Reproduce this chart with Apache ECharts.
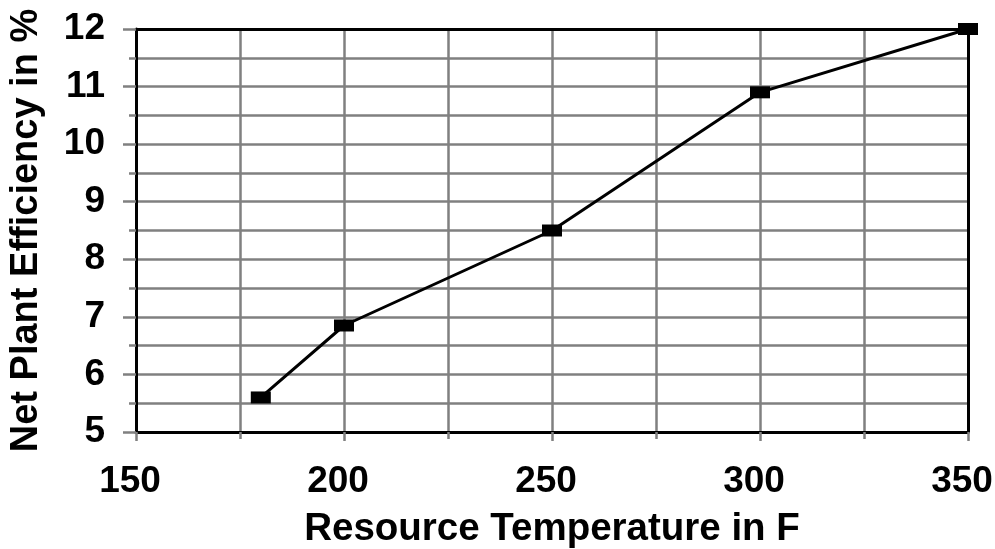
<!DOCTYPE html>
<html>
<head>
<meta charset="utf-8">
<script src="https://cdn.jsdelivr.net/npm/echarts@6/dist/echarts.min.js"></script>
<style>
html,body{margin:0;padding:0;background:#fff;}
#chart{width:995px;height:549px;}
</style>
</head>
<body>
<div id="chart"></div>
<script>
var temperatures = [180, 200, 250, 300, 350];
var efficiency = [5.6, 6.85, 8.5, 10.9, 12.0];
var xTicks = { min: 150, max: 350, interval: 50 };
var yTicks = { min: 5, max: 12, interval: 1 };
var xName = 'Resource Temperature in F';
var yName = 'Net Plant Efficiency in %';

var points = temperatures.map(function (t, i) { return [t, efficiency[i]]; });
var font = "'Liberation Sans', Arial, sans-serif";
var gray = '#808080';

var chart = echarts.init(document.getElementById('chart'), null, { renderer: 'canvas' });
chart.setOption({
  animation: false,
  backgroundColor: '#fff',
  grid: { left: 136, right: 27, top: 29, bottom: 117, containLabel: false, outerBoundsMode: 'none' },
  xAxis: [{
    type: 'value',
    min: xTicks.min, max: xTicks.max, interval: xTicks.interval,
    name: xName, nameLocation: 'middle', nameGap: 78,
    nameTextStyle: { fontFamily: font, fontSize: 38.5, fontWeight: 'bold', color: '#000' },
    axisLine: { show: true, lineStyle: { color: '#000', width: 3 } },
    axisTick: { show: true, length: 9, lineStyle: { color: gray, width: 2.5 } },
    minorTick: { show: true, splitNumber: 2, length: 7, lineStyle: { color: gray, width: 2.5 } },
    splitLine: { show: true, showMinLine: false, showMaxLine: false, lineStyle: { color: gray, width: 2.5 } },
    minorSplitLine: { show: true, lineStyle: { color: gray, width: 2.5 } },
    axisLabel: { margin: 31, padding: [0, 12, 0, 0], fontFamily: font, fontSize: 37, fontWeight: 'bold', color: '#000' }
  }, {
    type: 'value', position: 'top',
    min: xTicks.min, max: xTicks.max, interval: xTicks.interval,
    axisLine: { show: true, onZero: false, lineStyle: { color: '#000', width: 3 } },
    axisTick: { show: false }, axisLabel: { show: false }, splitLine: { show: false }
  }],
  yAxis: [{
    type: 'value',
    min: yTicks.min, max: yTicks.max, interval: yTicks.interval,
    name: yName, nameLocation: 'middle', nameGap: 90,
    nameTextStyle: { fontFamily: font, fontSize: 38, fontWeight: 'bold', color: '#000' },
    axisLine: { show: true, lineStyle: { color: '#000', width: 3 } },
    axisTick: { show: true, length: 13, lineStyle: { color: gray, width: 2.5 } },
    minorTick: { show: true, splitNumber: 2, length: 7, lineStyle: { color: gray, width: 2.5 } },
    splitLine: { show: true, showMinLine: false, showMaxLine: false, lineStyle: { color: gray, width: 2.5 } },
    minorSplitLine: { show: true, lineStyle: { color: gray, width: 2.5 } },
    axisLabel: { margin: 31, fontFamily: font, fontSize: 37, fontWeight: 'bold', color: '#000' }
  }, {
    type: 'value', position: 'right',
    min: yTicks.min, max: yTicks.max, interval: yTicks.interval,
    axisLine: { show: true, onZero: false, lineStyle: { color: '#000', width: 3 } },
    axisTick: { show: false }, axisLabel: { show: false }, splitLine: { show: false }
  }],
  series: [{
    type: 'line',
    data: points,
    xAxisIndex: 0, yAxisIndex: 0,
    symbol: 'rect', symbolSize: [20, 12],
    showSymbol: true,
    clip: false,
    z: 10,
    itemStyle: { color: '#000' },
    lineStyle: { color: '#000', width: 3 }
  }]
});
</script>
</body>
</html>
